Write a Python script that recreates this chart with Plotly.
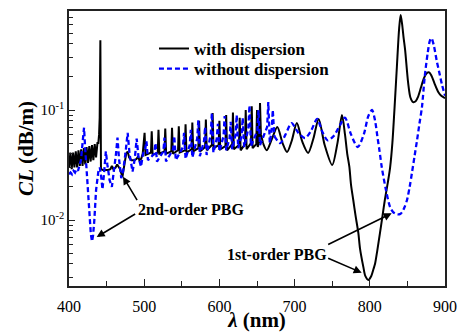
import plotly.graph_objects as go

# Confinement loss with material dispersion: narrow resonance region (400-658 nm)
wl_disp_res = [
    400, 401.8, 403.6, 405.4, 407.2, 409, 410.8, 412.6, 414.4, 416.2, 418, 419.8, 421.6, 423.4,
    425.2, 427, 428.8, 430.6, 432.4, 434.2, 436, 437.8, 439, 440,
    440.8, 441.3, 441.7, 442.1, 442.5,
    445, 448, 452, 455, 457, 459, 462, 464, 466, 468, 471, 473, 476, 478, 480, 483,
    487, 490, 492, 493.5, 496, 498,
    500.5, 501.7, 509, 510, 511.2, 518, 519, 520.2, 527, 528, 529.2, 536, 537, 538.2,
    545, 546, 547.2, 554, 555, 556.2, 563, 564, 565.2, 572, 573, 574.2, 581, 582, 583.2,
    590, 591, 592.2, 599, 600, 601.2, 608, 609, 610.2, 617, 618, 619.2, 626, 627, 628.2,
    634, 635, 636.2, 642, 643, 644.2, 649, 650, 651, 653, 654, 655.2, 658,
]
cl_disp_res = [
    0.030, 0.041, 0.029, 0.041, 0.030, 0.042, 0.030, 0.043, 0.031, 0.044, 0.031, 0.045, 0.032, 0.046,
    0.033, 0.047, 0.034, 0.048, 0.035, 0.049, 0.037, 0.050, 0.050, 0.060,
    0.085, 0.15, 0.43, 0.12, 0.029,
    0.0285, 0.0285, 0.0285, 0.029, 0.031, 0.029, 0.030, 0.032, 0.030, 0.029, 0.0246, 0.030, 0.040, 0.042, 0.037, 0.035,
    0.035, 0.036, 0.038, 0.035, 0.036, 0.040,
    0.062, 0.039, 0.041, 0.064, 0.039, 0.041, 0.066, 0.040, 0.042, 0.068, 0.040, 0.042, 0.069, 0.040,
    0.043, 0.071, 0.041, 0.043, 0.074, 0.041, 0.044, 0.077, 0.042, 0.045, 0.080, 0.042, 0.046, 0.082, 0.043,
    0.048, 0.094, 0.045, 0.048, 0.080, 0.044, 0.047, 0.090, 0.043, 0.049, 0.095, 0.044, 0.048, 0.085, 0.043,
    0.049, 0.100, 0.044, 0.050, 0.108, 0.045, 0.049, 0.100, 0.046, 0.052, 0.116, 0.060, 0.050,
]
# ... and the smooth band-edge region (658-900 nm)
wl_disp_band = [
    658, 663, 670, 677, 684, 690, 696, 703, 710, 718, 725, 732, 740, 750, 757, 763,
    767, 770, 772.8, 775, 778, 781, 784.8, 787, 791.4, 794, 798, 802, 805, 807, 810,
    813.5, 817, 820, 824, 827, 830, 833.5, 836, 839, 841, 843, 845, 847, 851, 854,
    857.5, 861, 864, 868, 872, 876, 879, 882, 886, 891, 895, 900,
]
cl_disp_band = [
    0.050, 0.043, 0.055, 0.070, 0.050, 0.0415, 0.052, 0.076, 0.052, 0.0407, 0.055, 0.083, 0.048, 0.0316, 0.050, 0.090,
    0.060, 0.040, 0.0305, 0.021, 0.0152, 0.011, 0.0076, 0.0055, 0.00375, 0.0031, 0.00285, 0.0031, 0.0036, 0.0040, 0.0053,
    0.0076, 0.011, 0.0152, 0.022, 0.030, 0.050, 0.123, 0.246, 0.55, 0.73, 0.60, 0.45, 0.35, 0.176, 0.13,
    0.118, 0.12, 0.131, 0.16, 0.195, 0.217, 0.22, 0.205, 0.175, 0.146, 0.135, 0.128,
]

# Same fibre without material dispersion: resonance region (400-673 nm)
wl_nodisp_res = [
    400, 402, 404, 406, 408, 410, 412, 414, 416, 418, 420, 421.5, 423.5, 425.5, 427, 429,
    430.6, 432, 433.7, 436, 439, 441, 443, 444.5, 446.5, 449, 451, 454, 457, 460, 462.5,
    464.5, 466.5, 469.5, 472, 475, 478, 480.5, 484.5, 487.5, 490, 492.5, 495.7, 498.5,
    501.5, 503, 505, 513.5, 515, 517, 525.5, 527, 529, 538.5, 540, 542, 551.5, 553, 555,
    560.5, 562, 564, 570.5, 572, 574, 579.5, 581, 583, 588.5, 590, 592, 596.5, 598, 600,
    605.5, 607, 609, 613.5, 615, 617, 621.5, 623, 625, 629.5, 631, 633, 638.5, 640, 642,
    650.5, 652, 654, 663.5, 665, 667, 669.5, 671, 673,
]
cl_nodisp_res = [
    0.026, 0.027, 0.026, 0.028, 0.027, 0.029, 0.028, 0.031, 0.035, 0.050, 0.069, 0.045, 0.027, 0.016, 0.0116, 0.0075,
    0.0064, 0.0072, 0.010, 0.0187, 0.0275, 0.030, 0.024, 0.019, 0.026, 0.042, 0.032, 0.023, 0.020, 0.028, 0.040,
    0.056, 0.036, 0.024, 0.028, 0.040, 0.062, 0.040, 0.0275, 0.036, 0.055, 0.037, 0.0305, 0.040,
    0.045, 0.052, 0.035, 0.040, 0.050, 0.034, 0.042, 0.056, 0.034, 0.044, 0.058, 0.035, 0.046, 0.062, 0.036,
    0.048, 0.066, 0.037, 0.055, 0.081, 0.038, 0.052, 0.070, 0.039, 0.060, 0.094, 0.041, 0.055, 0.075, 0.042,
    0.058, 0.088, 0.043, 0.055, 0.078, 0.044, 0.060, 0.090, 0.045, 0.058, 0.085, 0.046, 0.068, 0.110, 0.047,
    0.065, 0.100, 0.048, 0.070, 0.118, 0.050, 0.066, 0.100, 0.058,
]
# ... and its smooth band-edge region (673-900 nm)
wl_nodisp_band = [
    673, 681, 688, 696, 705, 714, 722, 730, 737, 744, 752, 760, 767, 775, 784,
    792, 798, 803, 807, 810, 813, 816, 821.5, 827, 831, 836, 840, 843, 846, 849.5,
    853, 856, 859.5, 862.8, 866, 869.4, 873, 877, 880, 882, 885, 889, 893, 896, 900,
]
cl_nodisp_band = [
    0.058, 0.050, 0.060, 0.076, 0.062, 0.0556, 0.065, 0.083, 0.063, 0.053, 0.058, 0.072, 0.085, 0.060, 0.046,
    0.060, 0.088, 0.100, 0.080, 0.058, 0.042, 0.030, 0.0187, 0.0131, 0.0118, 0.0113, 0.0113, 0.0118, 0.013, 0.0152,
    0.020, 0.0267, 0.038, 0.053, 0.075, 0.107, 0.20, 0.33, 0.43, 0.45, 0.39, 0.28, 0.21, 0.17, 0.135,
]

x_ticks = [400, 500, 600, 700, 800, 900]
y_ticks = [0.01, 0.1]
y_tick_text = ["10<sup>-2</sup>", "10<sup>-1</sup>"]
y_minor = [0.003, 0.004, 0.005, 0.006, 0.007, 0.008, 0.009,
           0.02, 0.03, 0.04, 0.05, 0.06, 0.07, 0.08, 0.09,
           0.2, 0.3, 0.4, 0.5, 0.6, 0.7]

SERIF = "Liberation Serif, Times New Roman, serif"
BLACK_LINE = dict(color="black", width=2)
BLUE_LINE = dict(color="#0000ff", width=2.3, dash="5px,3px")

fig = go.Figure()
fig.add_trace(go.Scatter(
    x=wl_disp_res, y=cl_disp_res, mode="lines", name="<b>with dispersion</b>",
    line=BLACK_LINE, legend="legend", legendgroup="disp",
))
fig.add_trace(go.Scatter(
    x=wl_disp_band, y=cl_disp_band, mode="lines", name="<b>with dispersion</b>",
    line=dict(BLACK_LINE, shape="spline", smoothing=0.8), legendgroup="disp", showlegend=False,
))
fig.add_trace(go.Scatter(
    x=wl_nodisp_res, y=cl_nodisp_res, mode="lines", name="<b>without dispersion</b>",
    line=BLUE_LINE, legend="legend2", legendgroup="nodisp",
))
fig.add_trace(go.Scatter(
    x=wl_nodisp_band, y=cl_nodisp_band, mode="lines", name="<b>without dispersion</b>",
    line=dict(BLUE_LINE, shape="spline", smoothing=0.8), legendgroup="nodisp", showlegend=False,
))

# Band-gap labels and their pointers: (x, log10 y) of the tip, pixel offset of the tail
pointers = [
    (471.8, -1.606, 15, 25),
    (436.8, -2.155, 40, -24),
    (829.1, -1.939, -65, 32),
    (789.2, -2.479, -35, -15),
]
for px_, py_, ax_, ay_ in pointers:
    fig.add_annotation(
        x=px_, y=py_, xref="x", yref="y", text="", showarrow=True,
        ax=ax_, ay=ay_, arrowhead=2, arrowsize=1, arrowwidth=1.6, arrowcolor="black",
    )
fig.add_annotation(
    x=0.3245, y=0.2764, xref="paper", yref="paper", text="<b>2nd-order PBG</b>",
    xanchor="center", yanchor="middle",
    showarrow=False, font=dict(family=SERIF, size=16, color="black"),
)
fig.add_annotation(
    x=0.552, y=0.116, xref="paper", yref="paper", text="<b>1st-order PBG</b>",
    xanchor="center", yanchor="middle",
    showarrow=False, font=dict(family=SERIF, size=16, color="black"),
)

legend_style = dict(
    xanchor="left", yanchor="middle", bgcolor="rgba(0,0,0,0)",
    font=dict(family=SERIF, size=17, color="black"),
)

fig.update_layout(
    width=458, height=332,
    margin=dict(l=69, r=13, t=11, b=46, autoexpand=False),
    paper_bgcolor="white", plot_bgcolor="white",
    font=dict(family=SERIF, color="black"),
    showlegend=True,
    legend=dict(x=0.226, y=0.862, **legend_style),
    legend2=dict(x=0.226, y=0.789, **legend_style),
    xaxis=dict(
        range=[400, 900], tickvals=x_ticks, ticks="inside", ticklen=7, tickwidth=1.3,
        tickcolor="#222", showline=True, linecolor="#222", linewidth=1.5, mirror=True,
        showgrid=False, zeroline=False, automargin=False, ticklabelstandoff=5,
        tickfont=dict(family=SERIF, size=16, color="black"),
        minor=dict(dtick=50, tick0=400, ticks="inside", ticklen=5, tickwidth=1.2, tickcolor="#222"),
        title=dict(text="<b><i>λ</i> (nm)</b>", font=dict(family=SERIF, size=21, color="black"), standoff=4),
    ),
    yaxis=dict(
        type="log", range=[-2.6, -0.1], tickvals=y_ticks, ticktext=y_tick_text,
        ticks="inside", ticklen=6, tickwidth=1.3, tickcolor="#222",
        showline=True, linecolor="#222", linewidth=1.5, mirror=True,
        showgrid=False, zeroline=False, automargin=False,
        tickfont=dict(family=SERIF, size=15, color="black"),
        minor=dict(tickmode="array", tickvals=y_minor, ticks="inside", ticklen=4, tickwidth=1.2, tickcolor="#222"),
        title=dict(text="<b><i>CL</i> (dB/m)</b>", font=dict(family=SERIF, size=21, color="black"), standoff=1),
    ),
)

fig.write_html("out.html")
